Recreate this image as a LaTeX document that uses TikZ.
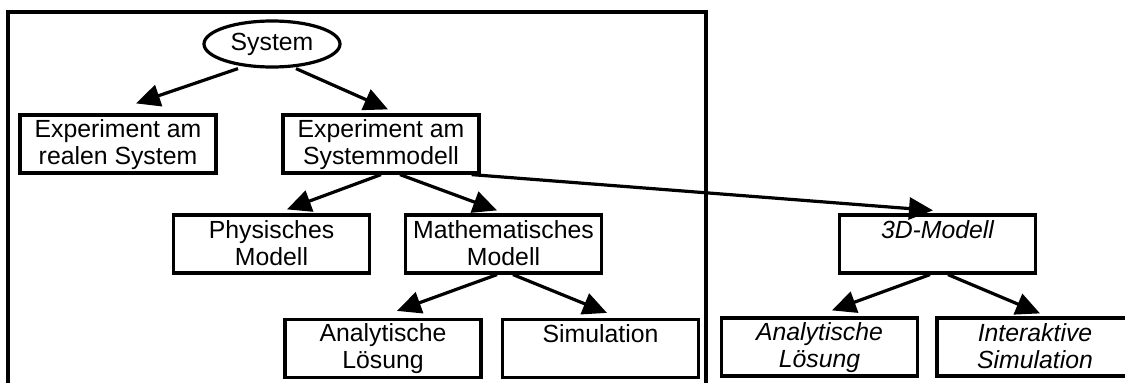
\documentclass[tikz,border=0pt]{standalone}
\usepackage{fontspec}
\setmainfont{Liberation Sans}
\usetikzlibrary{arrows.meta,shapes.geometric}
% line strut: 19pt above, 4pt below the baseline
\newcommand{\lnstrut}{\rule[-4pt]{0pt}{23pt}}
\begin{document}
\begin{tikzpicture}[x=1pt,y=-1pt,
  every node/.style={font=\fontsize{24.8}{27}\selectfont},
  box/.style={draw,line width=3.2pt,minimum width=196pt,minimum height=58pt,
    inner sep=0pt,align=center},
  itbox/.style={box,font=\fontsize{24.8}{27}\selectfont\itshape},
  conn/.style={line width=3.2pt,-{Triangle[length=24pt,width=22pt]}},
  frameline/.style={line width=3.2pt}]
\useasboundingbox (0,0) rectangle (1125,383);
\clip (0,0) rectangle (1125,383);

% boundary of the simulation scope
\draw[frameline] (8,390) -- (8,12) -- (706,12) -- (706,390);

% nodes
\node[ellipse,draw,line width=3.2pt,minimum width=136pt,minimum height=46pt,inner sep=0pt]
  (sys) at (272,44) {System};
\node[box] (real)   at (118,144)   {\lnstrut Experiment am\\\lnstrut realen System};
\node[box] (sysmod) at (381,144)   {\lnstrut Experiment am\\\lnstrut Systemmodell};
\node[box] (phys)   at (271.5,244) {\lnstrut Physisches\\\lnstrut Modell};
\node[box] (math)   at (503.5,244) {\lnstrut Mathematisches\\\lnstrut Modell};
\node[box] (ana)    at (383,348.5) {\lnstrut Analytische\\\lnstrut Lösung};
\node[box] (sim)    at (600.5,348.5) {\lnstrut Simulation\\\lnstrut};
\node[itbox] (threed) at (937.5,244) {\lnstrut 3D-Modell\\\lnstrut};
\node[itbox] (anaint) at (819.5,347) {\lnstrut Analytische\\\lnstrut Lösung};
\node[itbox] (inter)  at (1035,347)  {\lnstrut Interaktive\\\lnstrut Simulation};

% connectors
\draw[conn] ([xshift=-34pt]sys.south) -- ([xshift=18pt,yshift=10pt]real.north);
\draw[conn] ([xshift=24pt]sys.south) -- ([xshift=7pt,yshift=4pt]sysmod.north);
\draw[conn] (sysmod.south) -- ([xshift=15.5pt,yshift=4pt]phys.north);
\draw[conn] ([xshift=19pt]sysmod.south) -- ([xshift=-6.5pt,yshift=3pt]math.north);
\draw[conn] ([xshift=-9pt]sysmod.south east) -- ([xshift=-4.5pt,yshift=3pt]threed.north);
\draw[conn] ([xshift=-6.5pt]math.south) -- ([xshift=14pt,yshift=7pt]ana.north);
\draw[conn] ([xshift=9.5pt]math.south) -- ([xshift=6.5pt,yshift=5pt]sim.north);
\draw[conn] ([xshift=-7.5pt]threed.south) -- ([xshift=12.5pt,yshift=6pt]anaint.north);
\draw[conn] ([xshift=10.5pt]threed.south) -- ([xshift=5pt,yshift=3pt]inter.north);
\end{tikzpicture}
\end{document}
